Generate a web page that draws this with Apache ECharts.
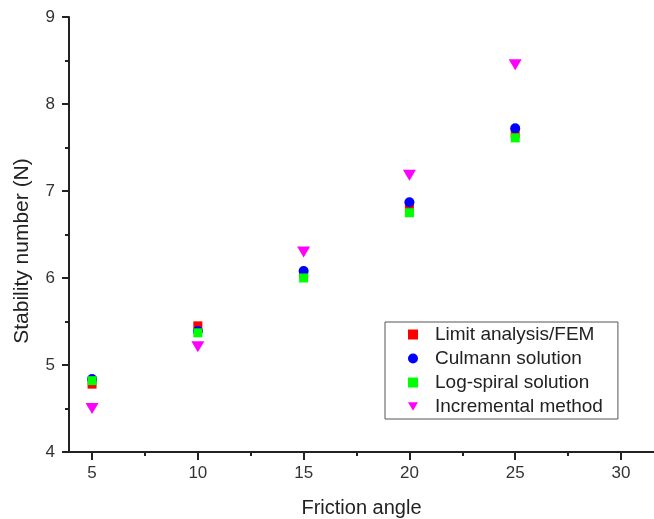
<!DOCTYPE html>
<html>
<head>
<meta charset="utf-8">
<script src="https://cdn.jsdelivr.net/npm/echarts@6/dist/echarts.min.js"></script>
<style>html,body{margin:0;padding:0;background:#fff}#c{width:654px;height:519px}</style>
</head>
<body>
<div id="c"></div>
<script>
var angles = [5, 10, 15, 20, 25];
var limitFEM = [4.78, 5.45, 6.04, 6.81, 7.66];
var culmann = [4.84, 5.39, 6.08, 6.87, 7.72];
var logSpiral = [4.82, 5.37, 6.00, 6.75, 7.61];
var incremental = [4.50, 5.21, 6.30, 7.18, 8.45];
var xTicks = [5, 10, 15, 20, 25, 30];
var xMinorTicks = [7.5, 12.5, 17.5, 22.5, 27.5];
var seriesNames = ['Limit analysis/FEM', 'Culmann solution', 'Log-spiral solution', 'Incremental method'];

var TRI = 'path://M0,0L12,0L6,10Z';
function pts(ys){ return angles.map(function(x,i){ return [x, ys[i]]; }); }
var font = 'Liberation Sans, Arial, sans-serif';
var xMin = 3.91, xMax = 31.56;

var chart = echarts.init(document.getElementById('c'));
chart.setOption({
  animation: false,
  backgroundColor: '#fff',
  grid: { left: 69, right: 0, top: 17, bottom: 67, containLabel: false, outerBoundsMode: 'none' },
  xAxis: [{
    type: 'value', min: xMin, max: xMax,
    name: 'Friction angle', nameLocation: 'middle', nameGap: 46,
    nameTextStyle: { fontFamily: font, fontSize: 20, color: '#222' },
    axisLine: { lineStyle: { color: '#222', width: 2 } },
    axisTick: { customValues: xTicks, length: 8, lineStyle: { color: '#222', width: 2 } },
    axisLabel: { customValues: xTicks, margin: 13, fontFamily: font, fontSize: 17, color: '#333' },
    splitLine: { show: false }
  }, {
    type: 'value', min: xMin, max: xMax, position: 'bottom', gridIndex: 0,
    axisLine: { show: false },
    axisTick: { customValues: xMinorTicks, length: 4, lineStyle: { color: '#222', width: 2 } },
    axisLabel: { show: false },
    splitLine: { show: false }
  }],
  yAxis: [{
    type: 'value', min: 4, max: 9, interval: 1,
    name: 'Stability number (N)', nameLocation: 'middle', nameGap: 36,
    nameTextStyle: { fontFamily: font, fontSize: 21, color: '#222', padding: [0, 33, 0, 0] },
    axisLine: { show: true, lineStyle: { color: '#222', width: 2 } },
    axisTick: { show: true, length: 7, lineStyle: { color: '#222', width: 2 } },
    minorTick: { show: true, splitNumber: 2, length: 4, lineStyle: { color: '#222', width: 2 } },
    axisLabel: { margin: 14, fontFamily: font, fontSize: 17, color: '#333' },
    splitLine: { show: false }
  }],
  legend: {
    orient: 'vertical', left: 385, top: 322,
    width: 232,
    borderColor: '#555', borderWidth: 1,
    padding: [3, 15, 3, 23],
    itemGap: 5, itemWidth: 10, itemHeight: 10,
    textStyle: { fontFamily: font, fontSize: 19, color: '#222', lineHeight: 19, padding: [0, 0, 0, 12] },
    data: [
      { name: seriesNames[0], icon: 'rect' },
      { name: seriesNames[1], icon: 'circle' },
      { name: seriesNames[2], icon: 'rect' },
      { name: seriesNames[3], icon: TRI }
    ]
  },
  series: [
    { name: seriesNames[0], type: 'scatter', data: pts(limitFEM), symbol: 'rect', symbolSize: 9, itemStyle: { color: '#ff0000', opacity: 1 } },
    { name: seriesNames[1], type: 'scatter', data: pts(culmann), symbol: 'circle', symbolSize: 10, itemStyle: { color: '#0000ff', opacity: 1 } },
    { name: seriesNames[2], type: 'scatter', data: pts(logSpiral), symbol: 'rect', symbolSize: 9, itemStyle: { color: '#00ff00', opacity: 1 } },
    { name: seriesNames[3], type: 'scatter', data: pts(incremental), symbol: TRI, symbolSize: [13, 11], itemStyle: { color: '#ff00ff', opacity: 1 } }
  ]
});
</script>
</body>
</html>
